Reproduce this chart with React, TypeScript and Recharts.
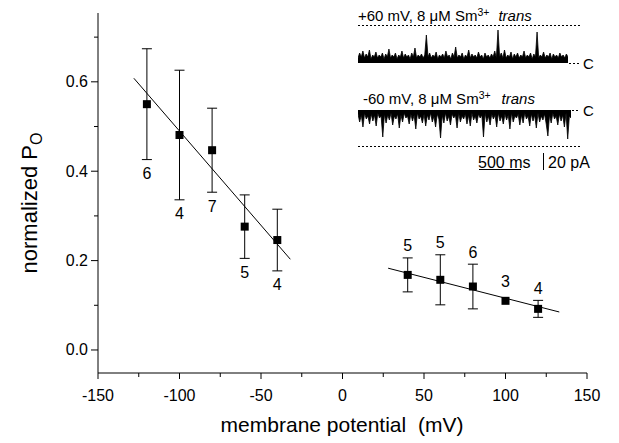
import React from 'react';
import { ComposedChart, Scatter, Line, XAxis, YAxis, ErrorBar, AreaChart, Area } from 'recharts';

// negative potentials
const negMv = [-120, -100, -80, -60, -40];
const negPo = [0.55, 0.481, 0.447, 0.276, 0.246];
const negErr = [0.124, 0.145, 0.094, 0.071, 0.069];
const negN = [6, 4, 7, 5, 4];

// positive potentials
const posMv = [40, 60, 80, 100, 120];
const posPo = [0.168, 0.157, 0.142, 0.11, 0.092];
const posErr = [0.038, 0.056, 0.05, 0, 0.019];
const posN = [5, 5, 6, 3, 4];

// linear fits (end points)
const fitNegMv = [-128, -32];
const fitNegPo = [0.608, 0.203];
const fitPosMv = [28, 133];
const fitPosPo = [0.183, 0.085];

const yTicks = [0, 0.1, 0.2, 0.3, 0.4, 0.5, 0.6, 0.7];
const yMajor = [0, 0.2, 0.4, 0.6];
const xTicks = [-150, -125, -100, -75, -50, -25, 0, 25, 50, 75, 100, 125, 150];
const xMajor = [-150, -100, -50, 0, 50, 100, 150];

// single channel traces, current in pA relative to closed level (C)
const tracePlus60 = [
  5, 10, 6, 12, 5, 9, 6, 13, 4, 8,
  6, 11, 5, 8, 6, 10, 4, 9, 6, 14,
  5, 8, 6, 10, 4, 8, 6, 12, 5, 9,
  6, 8, 4, 10, 6, 15, 5, 8, 6, 9,
  5, 8, 28, 6, 10, 5, 8, 6, 11, 4,
  8, 6, 9, 5, 12, 6, 8, 4, 10, 6,
  16, 5, 8, 6, 10, 4, 8, 6, 13, 5,
  9, 6, 8, 5, 11, 6, 8, 4, 10, 6,
  8, 5, 9, 6, 12, 5, 33, 6, 10, 5,
  13, 5, 8, 6, 11, 4, 9, 6, 10, 5,
  8, 6, 12, 5, 8, 6, 10, 4, 9, 6,
  31, 5, 8, 6, 11, 5, 8, 6, 10, 4,
  9, 6, 8, 5, 10, 6, 8, 5, 9, 6,
];
const traceMinus60 = [
  -4, -12, -5, -17, -3, -9, -6, -14, -4, -11,
  -5, -16, -3, -8, -6, -27, -4, -13, -5, -10,
  -3, -15, -6, -9, -4, -18, -5, -12, -3, -8,
  -6, -14, -4, -11, -5, -19, -3, -9, -6, -13,
  -4, -16, -5, -10, -3, -12, -6, -17, -4, -9,
  -28, -5, -13, -3, -11, -6, -15, -4, -8, -5,
  -18, -3, -12, -6, -9, -4, -14, -5, -16, -3,
  -10, -6, -13, -4, -8, -5, -27, -3, -12, -6,
  -15, -4, -9, -5, -17, -3, -11, -6, -14, -4,
  -10, -5, -19, -3, -12, -6, -8, -4, -15, -5,
  -13, -3, -9, -6, -16, -4, -11, -5, -18, -3,
  -12, -6, -10, -4, -14, -26, -5, -13, -3, -9,
  -6, -15, -4, -11, -5, -17, -3, -29, -6, -8,
];

const FONT = 'Liberation Sans, Arial, Helvetica, sans-serif';

const negData = negMv.map((mv, i) => ({ mv, po: negPo[i], err: negErr[i] }));
const posData = posMv.map((mv, i) => ({ mv, po: posPo[i], err: posErr[i] }));
const negLabels = negMv.map((mv, i) => ({ mv, po: negPo[i] - negErr[i], n: negN[i] }));
const posLabels = posMv.map((mv, i) => ({ mv, po: posPo[i] + posErr[i], n: posN[i], bare: posErr[i] === 0 }));
const fitNeg = fitNegMv.map((mv, i) => ({ mv, po: fitNegPo[i] }));
const fitPos = fitPosMv.map((mv, i) => ({ mv, po: fitPosPo[i] }));
const plusData = tracePlus60.map((v, i) => ({ t: i, i: v }));
const minusData = traceMinus60.map((v, i) => ({ t: i, i: v }));

const YTick = (props: any) => {
  const { x, y, payload } = props;
  const major = yMajor.includes(payload.value);
  return (
    <g>
      <line x1={x - (major ? 7 : 4)} x2={x} y1={y} y2={y} stroke="#000" />
      {major && (
        <text x={x - 10} y={y} textAnchor="end" dominantBaseline="central" fontSize={16} fontFamily={FONT} fill="#000">
          {payload.value.toFixed(1)}
        </text>
      )}
    </g>
  );
};

const XTick = (props: any) => {
  const { x, y, payload } = props;
  const major = xMajor.includes(payload.value);
  return (
    <g>
      <line x1={x} x2={x} y1={y} y2={y + (major ? 6 : 4)} stroke="#000" />
      {major && (
        <text x={x} y={y + 22} textAnchor="middle" dominantBaseline="central" fontSize={16} fontFamily={FONT} fill="#000">
          {payload.value}
        </text>
      )}
    </g>
  );
};

const Square = (p: any) => <rect x={p.cx - 4} y={p.cy - 4} width={8} height={8} fill="#000" />;

const BelowLabel = (p: any) => (
  <text x={p.cx} y={p.cy + 14} textAnchor="middle" dominantBaseline="central" fontSize={16} fontFamily={FONT} fill="#000">
    {p.payload.n}
  </text>
);

const AboveLabel = (p: any) => (
  <text x={p.cx} y={p.cy - (p.payload.bare ? 19 : 12)} textAnchor="middle" dominantBaseline="central" fontSize={16} fontFamily={FONT} fill="#000">
    {p.payload.n}
  </text>
);

function Trace({ data, domain, width }: { data: any[]; domain: [number, number]; width: number }) {
  return (
    <AreaChart width={width} height={40} data={data} margin={{ top: 0, right: 0, bottom: 0, left: 0 }}>
      <XAxis dataKey="t" type="number" domain={[0, data.length - 1]} hide />
      <YAxis type="number" domain={domain} hide allowDataOverflow />
      <Area dataKey="i" type="linear" baseValue={0} stroke="#000" strokeWidth={0.8} fill="#000" fillOpacity={1} dot={false} isAnimationActive={false} />
    </AreaChart>
  );
}

export default function App() {
  return (
    <div style={{ position: 'absolute', left: 0, top: 0, width: 619, height: 443, background: '#fff', fontFamily: FONT }}>
      <ComposedChart width={619} height={443} margin={{ top: 13, right: 32, bottom: 0, left: 0 }}>
        <XAxis
          dataKey="mv"
          type="number"
          domain={[-150, 150]}
          ticks={xTicks}
          allowDataOverflow
          height={70}
          tickSize={0}
          tickMargin={0}
          tickLine={false}
          axisLine={{ stroke: '#000' }}
          tick={<XTick />}
          interval={0}
        />
        <YAxis
          dataKey="po"
          type="number"
          domain={[-0.0515, 0.754]}
          ticks={yTicks}
          allowDataOverflow
          width={98}
          tickSize={0}
          tickMargin={0}
          tickLine={false}
          axisLine={{ stroke: '#000' }}
          tick={<YTick />}
          interval={0}
        />
        <Line data={fitNeg} dataKey="po" type="linear" stroke="#000" strokeWidth={1} dot={false} isAnimationActive={false} />
        <Line data={fitPos} dataKey="po" type="linear" stroke="#000" strokeWidth={1} dot={false} isAnimationActive={false} />
        <Scatter data={negData} dataKey="po" shape={<Square />} isAnimationActive={false}>
          <ErrorBar dataKey="err" direction="y" width={5} stroke="#000" strokeWidth={1} />
        </Scatter>
        <Scatter data={posData} dataKey="po" shape={<Square />} isAnimationActive={false}>
          <ErrorBar dataKey="err" direction="y" width={5} stroke="#000" strokeWidth={1} />
        </Scatter>
        <Scatter data={negLabels} dataKey="po" shape={<BelowLabel />} isAnimationActive={false} />
        <Scatter data={posLabels} dataKey="po" shape={<AboveLabel />} isAnimationActive={false} />
      </ComposedChart>

      {/* inset: single channel records */}
      <div style={{ position: 'absolute', left: 358, top: 23 }}>
        <Trace data={plusData} domain={[0, 40]} width={210} />
      </div>
      <div style={{ position: 'absolute', left: 358, top: 110 }}>
        <Trace data={minusData} domain={[-40, 0]} width={213} />
      </div>
      <svg width={619} height={443} style={{ position: 'absolute', left: 0, top: 0, pointerEvents: 'none' }} fontFamily={FONT}>
        {/* axis titles */}
        <text x={342} y={432} textAnchor="middle" fontSize={21} fill="#000">
          membrane potential{'\u00a0\u00a0'}(mV)
        </text>
        <text transform="translate(37,203) rotate(-90)" textAnchor="middle" fontSize={22} fill="#000">
          normalized P<tspan fontSize={16} dy={5}>O</tspan>
        </text>

        <text x={358} y={20.5} fontSize={15} fill="#000">
          +60 mV, 8 μM Sm<tspan fontSize={10.5} dy={-5}>3+</tspan>
          <tspan dy={5} fontStyle="italic" dx={9}>trans</tspan>
        </text>
        <line x1={358} x2={580} y1={25.5} y2={25.5} stroke="#000" strokeDasharray="2 2" />
        <line x1={569} x2={580} y1={63.5} y2={63.5} stroke="#000" strokeDasharray="2 2" />
        <text x={583} y={63} fontSize={15} fill="#000" dominantBaseline="central">C</text>

        <text x={363} y={103.5} fontSize={15} fill="#000">
          -60 mV, 8 μM Sm<tspan fontSize={10.5} dy={-5}>3+</tspan>
          <tspan dy={5} fontStyle="italic" dx={11}>trans</tspan>
        </text>
        <line x1={572} x2={580} y1={110.5} y2={110.5} stroke="#000" strokeDasharray="2 2" />
        <text x={583} y={110} fontSize={15} fill="#000" dominantBaseline="central">C</text>
        <line x1={358} x2={580} y1={146.5} y2={146.5} stroke="#000" strokeDasharray="2 2" />

        <text x={478} y={168} fontSize={16} fill="#000">500 ms</text>
        <line x1={479} x2={521} y1={169.5} y2={169.5} stroke="#000" />
        <line x1={543.5} x2={543.5} y1={153} y2={170} stroke="#000" />
        <text x={548} y={168} fontSize={16} fill="#000">20 pA</text>
      </svg>
    </div>
  );
}
